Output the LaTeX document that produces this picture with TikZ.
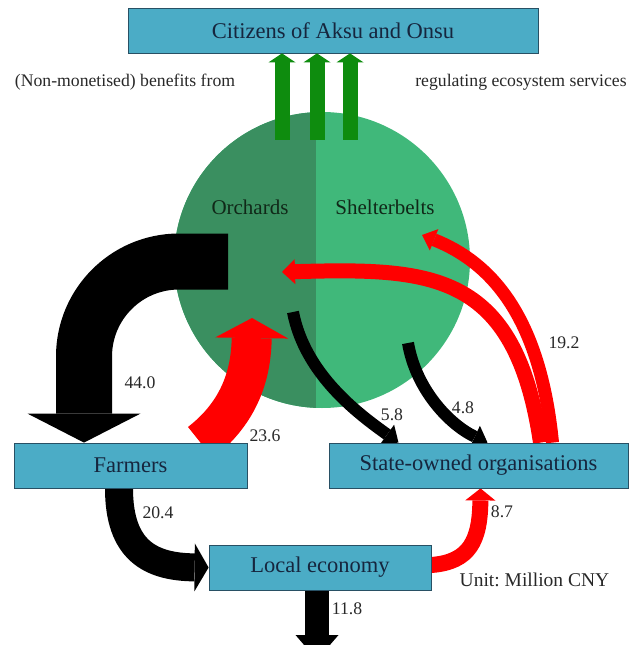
\documentclass[tikz,border=0pt]{standalone}
\usepackage{fontspec}
\setmainfont{Liberation Serif}
\usetikzlibrary{arrows.meta}
\definecolor{boxfill}{RGB}{75,172,198}
\definecolor{boxline}{RGB}{40,80,100}
\definecolor{boxtext}{RGB}{22,38,62}
\definecolor{orchdark}{RGB}{58,143,96}
\definecolor{sheltlight}{RGB}{64,184,122}
\definecolor{flowred}{RGB}{255,0,0}
\definecolor{flowgreen}{RGB}{14,140,14}
\definecolor{labelgrey}{RGB}{40,40,40}
\definecolor{zonetext}{RGB}{16,40,24}
\frenchspacing
\begin{document}
\begin{tikzpicture}[x=1pt,y=-1pt,
  box/.style={draw=boxline, line width=0.8pt, fill=boxfill, text=boxtext,
    font=\fontsize{22.5}{27}\selectfont, inner sep=0pt, minimum height=45pt},
  lbl/.style={text=labelgrey, font=\fontsize{17.7}{21}\selectfont, inner sep=0pt},
  zone/.style={text=zonetext, font=\fontsize{21}{25}\selectfont, inner sep=0pt},
  band/.style={line cap=butt, line join=round},
]
\useasboundingbox (0,0) rectangle (637,645);
\clip (0,0) rectangle (637,645);

% resource circle
\node[circle, fill=sheltlight, minimum size=296pt, inner sep=0pt] (res) at (322,260) {};
\begin{scope}
  \clip (res.center) circle[radius=148pt];
  \fill[orchdark] (150,100) rectangle (316,420);
\end{scope}
\node[zone] (orch) at (250,207) {Orchards};
\node[zone] (shel) at (385,207) {Shelterbelts};

% coordinates
\coordinate (o1) at (228,261.5);
\coordinate (o2) at (252,318);
\coordinate (o3) at (293,312);
\coordinate (s4) at (408,343);
\coordinate (o5) at (282,272);
\coordinate (s6) at (422,235);
\coordinate (sink) at (317,660);

% box anchors (boxes are painted later, above the flows)
\path (130.5,465.5) coordinate (farmc) (478.5,465.5) coordinate (soec) (320,567.5) coordinate (locc);
\node[box, minimum width=410pt] (cit) at (333,30.5) {Citizens of Aksu and Onsu};
\node[box, minimum width=233pt, draw=none, fill=none, text opacity=0] (farm) at (farmc) {Farmers};
\node[box, minimum width=299pt, draw=none, fill=none, text opacity=0] (soe) at (soec) {State-owned organisations};
\node[box, minimum width=222pt, draw=none, fill=none, text opacity=0] (loc) at (locc) {Local economy};

% flows
\draw[band, black, line width=56pt, rounded corners=95pt,
  -{Triangle[width=113pt,length=29pt,line width=0pt]}]
  (o1) -| ([xshift=-46.5pt]farm.north);
\draw[band, flowred, line width=40pt,
  -{Triangle[width=73pt,length=20pt,line width=0pt]}]
  ([xshift=70pt]farm.north) .. controls (232,418) and (251,385) .. (o2);
\draw[band, black, line width=12pt,
  -{Triangle[width=24pt,length=14pt,line width=0pt]}]
  (o3) .. controls (305,375) and (360,415) .. ([xshift=-80pt]soe.north);
\draw[band, black, line width=12pt,
  -{Triangle[width=24pt,length=14pt,line width=0pt]}]
  (s4) .. controls (416,390) and (450,425) .. ([xshift=9pt]soe.north);
\draw[band, flowred, line width=15pt,
  -{Triangle[width=25pt,length=13pt,line width=0pt]}]
  ([xshift=62pt]soe.north) .. controls (515,270) and (430,268) .. (o5);
\draw[band, flowred, line width=13pt,
  -{Triangle[width=23pt,length=13pt,line width=0pt]}]
  ([xshift=74pt]soe.north) .. controls (540,315) and (490,262) .. (s6);
\draw[band, black, line width=28pt,
  -{Triangle[width=48pt,length=14pt,line width=0pt]}]
  ([xshift=-11.5pt]farm.south) .. controls (119,550) and (150,567) .. (loc.west);
\draw[band, flowred, line width=16pt,
  -{Triangle[width=30pt,length=12pt,line width=0pt]}]
  ([yshift=2.5pt]loc.east) .. controls (470,562) and (480,540) .. ([xshift=2pt]soe.south);
\draw[band, black, line width=24pt,
  -{Triangle[width=43pt,length=25pt,line width=0pt]}]
  ([xshift=-3pt]loc.south) -- (sink);

% visible boxes on top
\node[box, minimum width=233pt] at (farmc) {Farmers};
\node[box, minimum width=299pt] at (soec) {State-owned organisations};
\node[box, minimum width=222pt] at (locc) {Local economy};

% green benefit arrows
\foreach \dx/\cx in {-40/-51, -5/-16, 28/17}
  \draw[band, flowgreen, line width=15pt,
    -{Triangle[width=27pt,length=9pt,line width=0pt]}]
    ([xshift=\dx pt, yshift=-28pt]res.north) -- ([xshift=\cx pt]cit.south);

% labels
\node[lbl] (nm) at (125,82) {(Non-monetised) benefits from};
\node[lbl] (rg) at (521,82) {regulating ecosystem services};
\node[lbl] (l44) at (140,383) {44.0};
\node[lbl] (l236) at (265,436) {23.6};
\node[lbl] (l58) at (392,415) {5.8};
\node[lbl] (l48) at (463,408) {4.8};
\node[lbl] (l192) at (564,343) {19.2};
\node[lbl] (l204) at (158,513) {20.4};
\node[lbl] (l87) at (502,512) {8.7};
\node[lbl] (l118) at (347,609) {11.8};
\node[lbl, font=\fontsize{19.5}{23}\selectfont] (unit) at (534.5,580) {Unit: Million CNY};
\end{tikzpicture}
\end{document}
